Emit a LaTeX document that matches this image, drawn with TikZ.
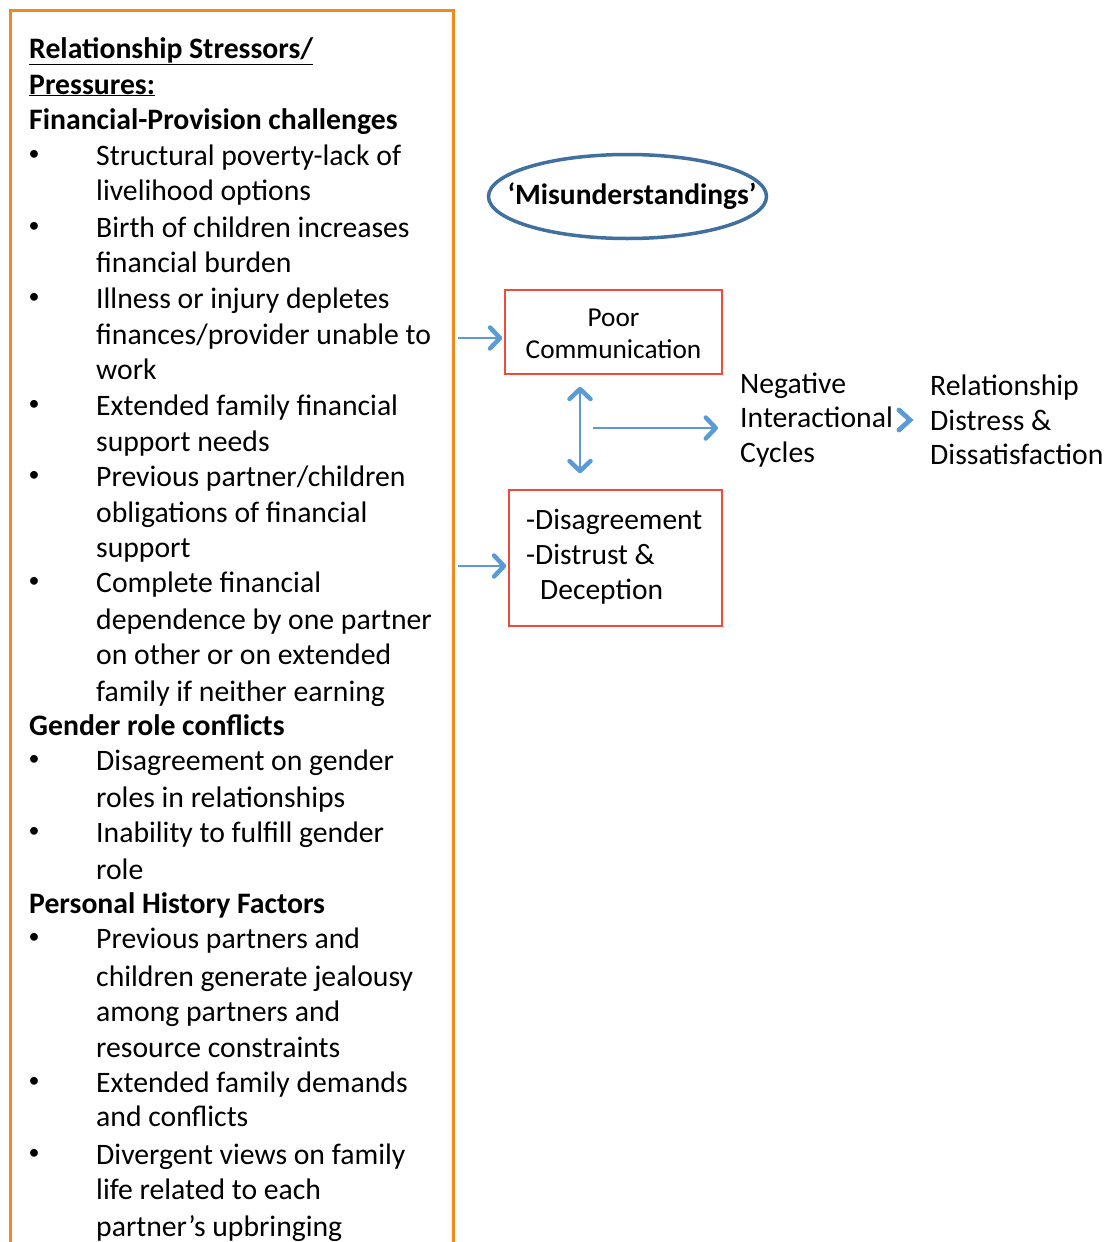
\documentclass[tikz,border=0pt]{standalone}
\usepackage{fontspec}
\setmainfont{Carlito}
\usetikzlibrary{arrows.meta,calc}
\definecolor{frameorange}{HTML}{EE8A1E}
\definecolor{boxred}{HTML}{F24B3B}
\definecolor{ovalblue}{HTML}{41709E}
\definecolor{arrowblue}{HTML}{5B9BD5}
\tikzset{barb/.tip={Straight Barb[length=10pt,width=21pt,line width=4.5pt,round]}}
\begin{document}
\begin{tikzpicture}[x=1pt,y=-1pt,
  txt/.style={anchor=base west,inner sep=0pt,font=\fontsize{29.7}{35}\selectfont},
  headtxt/.style={txt,font=\fontsize{29.7}{35}\selectfont\bfseries},
  bulletdot/.style={anchor=center,inner sep=0pt,font=\fontsize{22}{26}\selectfont},
  redbox/.style={draw=boxred,line width=1.5pt,rectangle,inner sep=0pt},
  boxtxt/.style={inner sep=0pt,font=\fontsize{27.3}{32}\selectfont},
  flow/.style={draw=arrowblue,line width=2pt,-barb},
  twoway/.style={draw=arrowblue,line width=2pt,barb-barb},
  chevron/.style={draw=arrowblue,line width=4.8pt,line cap=round,line join=miter},
  sidetxt/.style={anchor=west,inner sep=0pt,align=left,font=\fontsize{29.7}{34.5}\selectfont}]
\useasboundingbox (0,0) rectangle (1112,1242);

% stressor panel, open at the bottom
\draw[frameorange,line width=3pt] (10,1242) -- (10,10) -- (453,10) -- (453,1242);

% headings
\node[headtxt] (title1) at (29,58) {\underline{Relationship Stressors/}};
\node[headtxt] (title2) at (29,94) {\underline{Pressures:}};
\node[headtxt] (finhead) at (29,129) {Financial-Provision challenges};
\node[headtxt] (genhead) at (29,735) {Gender role conflicts};
\node[headtxt] (histhead) at (29,913) {Personal History Factors};

% bullet marks
\foreach \y [count=\i] in {155,227,298,405,476,582,760,832,938,1082,1154}
  \node[bulletdot] (dot\i) at (34,\y) {•};

% item lines
\foreach \y/\t [count=\i] in {
  155/{Structural poverty-lack of},
  190/{livelihood options},
  227/{Birth of children increases},
  262/{financial burden},
  298/{Illness or injury depletes},
  334/{finances/provider unable to},
  369/{work},
  405/{Extended family financial},
  441/{support needs},
  476/{Previous partner/children},
  512/{obligations of financial},
  547/{support},
  582/{Complete financial},
  619/{dependence by one partner},
  654/{on other or on extended},
  691/{family if neither earning},
  760/{Disagreement on gender},
  797/{roles in relationships},
  832/{Inability to fulfill gender},
  869/{role},
  938/{Previous partners and},
  976/{children generate jealousy},
  1011/{among partners and},
  1047/{resource constraints},
  1082/{Extended family demands},
  1116/{and conflicts},
  1154/{Divergent views on family},
  1189/{life related to each},
  1226/{partner’s upbringing}}
  \node[txt] (item\i) at (96,\y+10) {\t};

% right-hand flow
\node[inner sep=0pt,font=\fontsize{29.5}{32}\selectfont\bfseries] (misund) at (632,196) {‘Misunderstandings’};
\draw[ovalblue,line width=3.5pt] (627.5,196.5) ellipse [x radius=139pt,y radius=42pt];

\node[redbox,minimum width=217pt,minimum height=84pt] (poor) at (613.5,332) {};
\node[boxtxt,align=center] (poortxt) at (613.5,334) {Poor\\Communication};

\node[redbox,minimum width=213pt,minimum height=136pt] (dis) at (615.5,558) {};
\node[boxtxt,anchor=base west,font=\fontsize{29.5}{32}\selectfont] (dis1) at (526,529) {-Disagreement};
\node[boxtxt,anchor=base west,font=\fontsize{29.5}{32}\selectfont] (dis2) at (526,564) {-Distrust \&};
\node[boxtxt,anchor=base west,font=\fontsize{29.5}{32}\selectfont] (dis3) at (540,599) {Deception};

\node[sidetxt] (neg) at (740,420) {Negative\\Interactional\\Cycles};
\node[sidetxt] (rel) at (930,420) {Relationship\\Distress \&\\Dissatisfaction};

\coordinate (in1) at (458,338);
\coordinate (in2) at (458,566);
\coordinate (mid) at (593,428);

\draw[flow,shorten >=2pt] (in1) -- (in1 -| poor.west);
\draw[flow,shorten >=2pt] (in2) -- (in2 -| dis.west);
\draw[twoway] ($(poor.south)+(-33.5,12)$) -- ($(dis.north)+(-35.5,-16)$);
\draw[flow,shorten >=22pt] (mid) -- (mid -| neg.west);
\draw[chevron] ($(neg.east)+(6,-10)$) -- ++(11,10) -- ++(-11,10);
\end{tikzpicture}
\end{document}
